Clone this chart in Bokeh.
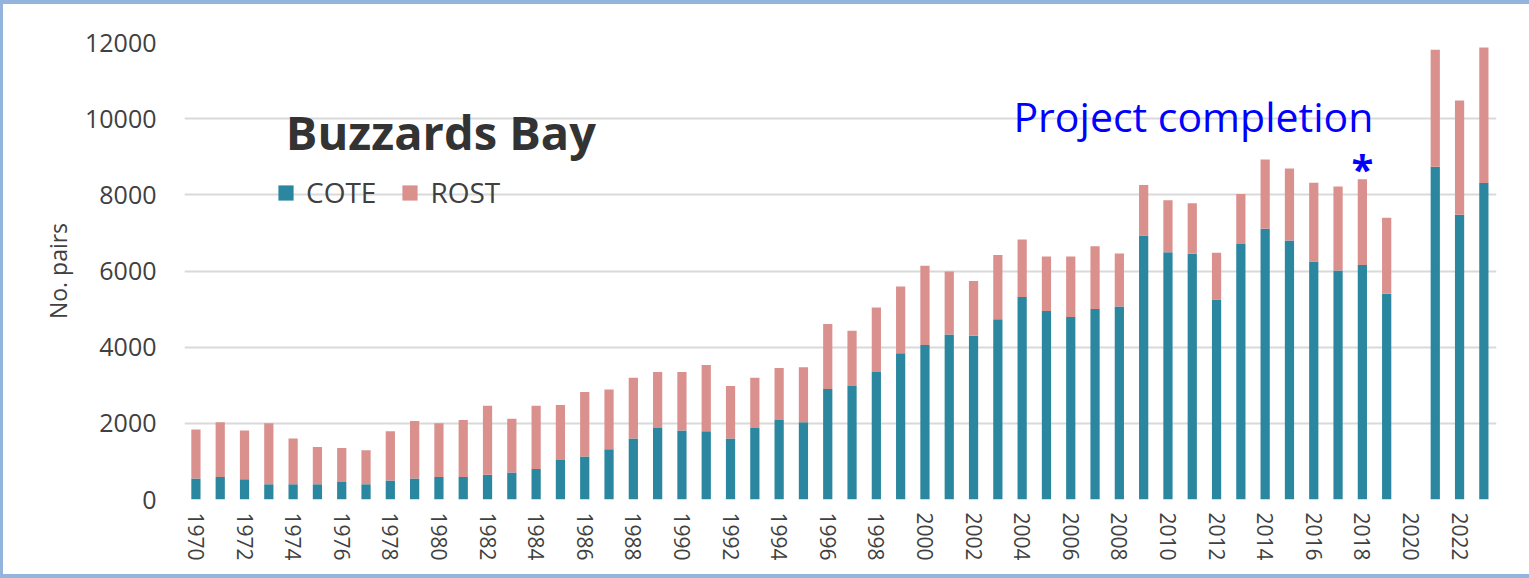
from bokeh.plotting import figure
from bokeh.models import ColumnDataSource, Range1d, FixedTicker, Label, Legend
from bokeh.embed import file_html
from bokeh.resources import INLINE

# ---- data ----
years = [1970, 1971, 1972, 1973, 1974, 1975, 1976, 1977, 1978, 1979,
         1980, 1981, 1982, 1983, 1984, 1985, 1986, 1987, 1988, 1989,
         1990, 1991, 1992, 1993, 1994, 1995, 1996, 1997, 1998, 1999,
         2000, 2001, 2002, 2003, 2004, 2005, 2006, 2007, 2008, 2009,
         2010, 2011, 2012, 2013, 2014, 2015, 2016, 2017, 2018, 2019,
         2021, 2022, 2023]
cote = [550, 590, 530, 400, 400, 400, 460, 400, 500, 550,
        590, 590, 650, 710, 800, 1040, 1130, 1320, 1600, 1880,
        1810, 1790, 1600, 1880, 2090, 2030, 2900, 2980, 3350, 3840,
        4060, 4330, 4300, 4730, 5320, 4950, 4790, 5000, 5070, 6930,
        6490, 6450, 5250, 6710, 7110, 6800, 6250, 6010, 6160, 5400,
        8740, 7480, 8310]
rost = [1290, 1440, 1280, 1600, 1200, 980, 890, 890, 1290, 1510,
        1410, 1500, 1810, 1410, 1660, 1440, 1690, 1570, 1600, 1470,
        1540, 1740, 1380, 1320, 1360, 1440, 1710, 1450, 1690, 1750,
        2080, 1660, 1440, 1690, 1510, 1430, 1590, 1650, 1390, 1330,
        1370, 1330, 1230, 1310, 1820, 1890, 2070, 2210, 2250, 2000,
        3070, 3000, 3560]
series_names = ["COTE", "ROST"]
series_colors = ["#2b879f", "#da918e"]
y_ticks = [0, 2000, 4000, 6000, 8000, 10000, 12000]
x_ticks = list(range(1970, 2023, 2))

source = ColumnDataSource(dict(year=years, COTE=cote, ROST=rost))

FONT = "Open Sans"

p = figure(width=1529, height=578, output_backend="svg", toolbar_location=None,
           x_range=Range1d(1969.53, 2023.52), y_range=Range1d(0, 12000),
           min_border_left=184, min_border_right=33, min_border_top=42,
           min_border_bottom=79)
p.background_fill_color = "white"
p.border_fill_color = None
p.outline_line_color = None
# light-blue picture frame (left, top and bottom edges)
p.styles = {"background-color": "white",
            "box-shadow": "inset 3px 0 0 #93b4dd, inset 0 4px 0 #93b4dd, inset 0 -4px 0 #93b4dd"}

renderers = p.vbar_stack(series_names, x="year", width=0.38, color=series_colors,
                         line_color=None, source=source)

legend = Legend(items=[(n, [r]) for n, r in zip(series_names, renderers)],
                location=(92, 288), orientation="horizontal")
legend.padding = 0
legend.margin = 0
legend.spacing = 24
legend.label_standoff = 11
legend.glyph_width = 19
legend.glyph_height = 19
legend.label_text_font = FONT
legend.label_text_font_size = "28px"
legend.label_text_color = "#404040"
legend.background_fill_alpha = 0
legend.border_line_color = None
p.add_layout(legend, "center")

# axes
p.yaxis.ticker = FixedTicker(ticks=y_ticks)
p.xaxis.ticker = FixedTicker(ticks=x_ticks)
p.xgrid.grid_line_color = None
p.ygrid.grid_line_color = "#d9d9d9"
p.ygrid.grid_line_width = 2
for ax in (p.xaxis, p.yaxis):
    ax.axis_line_color = None
    ax.major_tick_line_color = None
    ax.minor_tick_line_color = None
    ax.major_tick_out = 0
    ax.major_tick_in = 0
    ax.minor_tick_out = 0
    ax.minor_tick_in = 0
    ax.major_label_text_font = FONT
    ax.major_label_text_color = "#404040"
p.yaxis.major_label_text_font_size = "25px"
p.yaxis.major_label_standoff = 28
p.yaxis.axis_label = "No. pairs"
p.yaxis.axis_label_text_font = FONT
p.yaxis.axis_label_text_font_size = "23px"
p.yaxis.axis_label_text_font_style = "normal"
p.yaxis.axis_label_text_color = "#404040"
p.yaxis.axis_label_standoff = 8
p.xaxis.major_label_text_font_size = "21px"
p.xaxis.major_label_orientation = "vertical"
p.xaxis.major_label_standoff = 13

# annotations
p.add_layout(Label(x=1973.7, y=9650, text="Buzzards Bay", text_font=FONT,
                   text_font_size="47px", text_font_style="bold",
                   text_color="#333333", text_align="left",
                   text_baseline="alphabetic"))
p.add_layout(Label(x=2018.45, y=10060, text="Project completion", text_font=FONT,
                   text_font_size="41px", text_color="#0000ff",
                   text_align="right", text_baseline="alphabetic"))
p.add_layout(Label(x=2018.45, y=8690, text="*", text_font=FONT,
                   text_font_size="40px", text_font_style="bold",
                   text_color="#0000ff", text_align="right",
                   text_baseline="alphabetic"))

open("out.html", "w").write(file_html(p, INLINE))
